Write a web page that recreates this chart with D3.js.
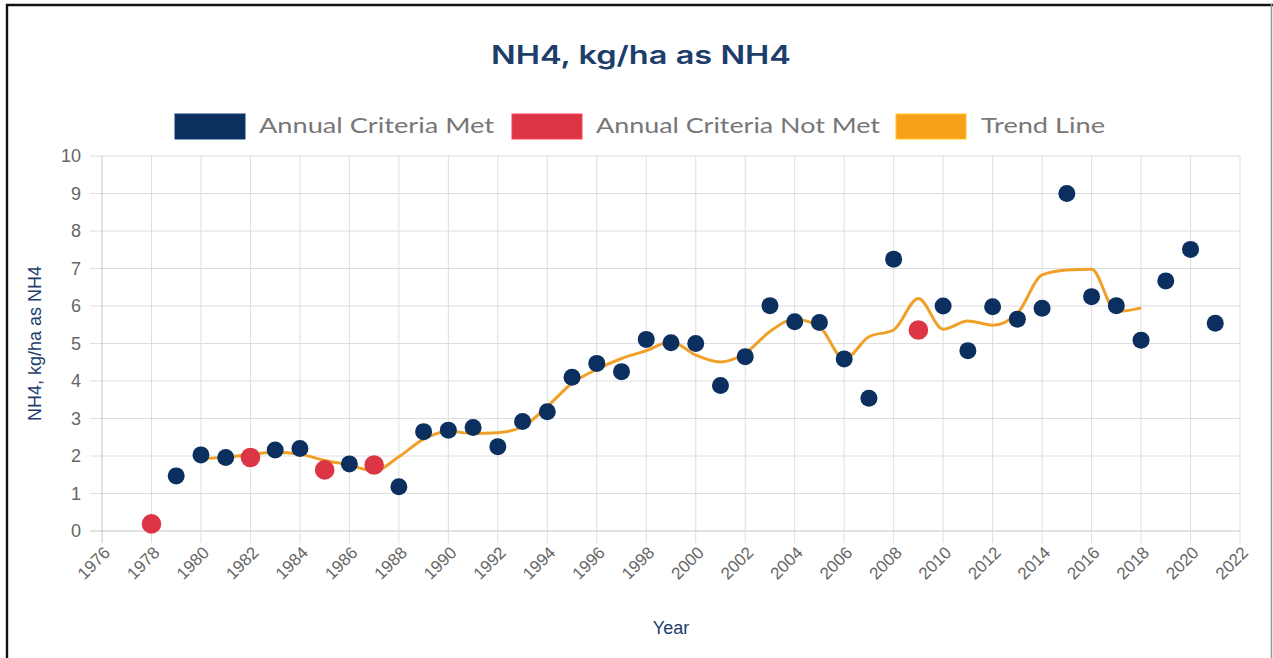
<!DOCTYPE html>
<html>
<head>
<meta charset="utf-8">
<script src="https://cdn.jsdelivr.net/npm/d3@7"></script>
<style>
  html, body { margin: 0; padding: 0; background: #fff; }
  svg { display: block; }
</style>
</head>
<body>
<svg id="chart" width="1273" height="658"></svg>
<script>
// Annual NH4 deposition, kg/ha as NH4
const years = [1978, 1979, 1980, 1981, 1982, 1983, 1984, 1985, 1986, 1987, 1988, 1989, 1990, 1991,
  1992, 1993, 1994, 1995, 1996, 1997, 1998, 1999, 2000, 2001, 2002, 2003, 2004, 2005, 2006, 2007,
  2008, 2009, 2010, 2011, 2012, 2013, 2014, 2015, 2016, 2017, 2018, 2019, 2020, 2021];
const values = [0.19, 1.47, 2.03, 1.96, 1.96, 2.16, 2.2, 1.63, 1.79, 1.76, 1.18, 2.65, 2.69, 2.76,
  2.25, 2.92, 3.18, 4.1, 4.47, 4.25, 5.11, 5.02, 5.0, 3.88, 4.65, 6.01, 5.58, 5.56, 4.59, 3.54,
  7.25, 5.36, 6.0, 4.81, 5.98, 5.65, 5.94, 9.0, 6.25, 6.01, 5.09, 6.67, 7.51, 5.54];
// Years in which the annual completeness criteria were not met
const notMetYears = [1978, 1982, 1985, 1987, 2009];

const trendYears = [1980, 1981, 1982, 1983, 1984, 1985, 1986, 1987, 1988, 1989, 1990, 1991, 1992,
  1993, 1994, 1995, 1996, 1997, 1998, 1999, 2000, 2001, 2002, 2003, 2004, 2005, 2006, 2007, 2008,
  2009, 2010, 2011, 2012, 2013, 2014, 2015, 2016, 2017, 2018];
const trendValues = [1.92, 1.97, 2.04, 2.1, 2.05, 1.88, 1.76, 1.6, 1.98, 2.45, 2.66, 2.6, 2.62,
  2.78, 3.32, 3.94, 4.31, 4.6, 4.81, 5.05, 4.69, 4.51, 4.74, 5.32, 5.65, 5.45, 4.58, 5.18, 5.36,
  6.2, 5.38, 5.6, 5.49, 5.8, 6.83, 6.96, 6.98, 5.85, 5.95];

const xTicks = d3.range(1976, 2023, 2);
const yTicks = d3.range(0, 11, 1);

const legendItems = [
  { label: "Annual Criteria Met", color: "#0b2f5e" },
  { label: "Annual Criteria Not Met", color: "#dc3545" },
  { label: "Trend Line", color: "#f7a11a" }
];

const colors = { met: "#0b2f5e", notMet: "#dc3545", trend: "#f0a028", navy: "#1d3d6b", tick: "#666" };

const svg = d3.select("#chart");
const plot = { left: 102, right: 1240, top: 156, bottom: 531 };

const x = d3.scaleLinear().domain([1976, 2022]).range([plot.left, plot.right]);
const y = d3.scaleLinear().domain([0, 10]).range([plot.bottom, plot.top]);

// frame
svg.append("line").attr("x1", 6).attr("x2", 1273).attr("y1", 5).attr("y2", 5)
  .attr("stroke", "#111").attr("stroke-width", 2.4);
svg.append("line").attr("x1", 7).attr("x2", 7).attr("y1", 4).attr("y2", 658)
  .attr("stroke", "#111").attr("stroke-width", 2.4);
svg.append("line").attr("x1", 1271.5).attr("x2", 1271.5).attr("y1", 4).attr("y2", 658)
  .attr("stroke", "#999").attr("stroke-width", 1.5);

// title
svg.append("text")
  .attr("x", 641).attr("y", 64)
  .attr("text-anchor", "middle")
  .attr("font-family", "Inter, 'Open Sans', sans-serif")
  .attr("font-weight", 600)
  .attr("font-size", 25)
  .attr("fill", colors.navy)
  .attr("textLength", 300).attr("lengthAdjust", "spacingAndGlyphs")
  .text("NH4, kg/ha as NH4");

// legend
const legendLayout = [
  { box: 175, text: 259, textLen: 235 },
  { box: 512, text: 596, textLen: 284 },
  { box: 896, text: 981, textLen: 124 }
];
const legend = svg.append("g");
legendItems.forEach((d, i) => {
  const L = legendLayout[i];
  legend.append("rect")
    .attr("x", L.box).attr("y", 114).attr("width", 70).attr("height", 25)
    .attr("fill", d.color)
    .attr("stroke", d3.color(d.color).brighter(0.6)).attr("stroke-width", 1);
  legend.append("text")
    .attr("x", L.text).attr("y", 133)
    .attr("font-family", "Lato, 'Open Sans', sans-serif")
    .attr("font-size", 21)
    .attr("fill", "#777")
    .attr("textLength", L.textLen).attr("lengthAdjust", "spacingAndGlyphs")
    .text(d.label);
});

// grid
const grid = svg.append("g");
grid.selectAll(".hg").data(yTicks).join("line")
  .attr("x1", plot.left - 12).attr("x2", plot.right)
  .attr("y1", d => y(d)).attr("y2", d => y(d))
  .attr("stroke", d => d === 0 ? "#c4c4c4" : "#dedede").attr("stroke-width", 1);
grid.selectAll(".vg").data(xTicks).join("line")
  .attr("x1", d => x(d)).attr("x2", d => x(d))
  .attr("y1", plot.top).attr("y2", plot.bottom + 12)
  .attr("stroke", d => d === 1976 ? "#c4c4c4" : "#dedede").attr("stroke-width", 1);

// y axis labels
const yAxis = svg.append("g")
  .attr("transform", `translate(${plot.left - 12},0)`)
  .call(d3.axisLeft(y).tickValues(yTicks).tickSize(0).tickPadding(9));
yAxis.select(".domain").remove();
yAxis.selectAll("text")
  .attr("font-family", "'Liberation Sans', Arial, sans-serif")
  .attr("font-size", 18).attr("fill", colors.tick);

// x axis labels, rotated
const xAxis = svg.append("g")
  .attr("transform", `translate(0,${plot.bottom + 12})`)
  .call(d3.axisBottom(x).tickValues(xTicks).tickFormat(d3.format("d")).tickSize(0));
xAxis.select(".domain").remove();
xAxis.selectAll("text")
  .attr("font-family", "'Liberation Sans', Arial, sans-serif")
  .attr("font-size", 17).attr("fill", colors.tick)
  .attr("text-anchor", "end")
  .attr("dy", "0.3em")
  .attr("transform", "translate(3,5) rotate(-45)");

// axis titles
svg.append("text")
  .attr("transform", `translate(41,${(plot.top + plot.bottom) / 2}) rotate(-90)`)
  .attr("text-anchor", "middle")
  .attr("font-family", "'Liberation Sans', Arial, sans-serif")
  .attr("font-size", 18).attr("fill", colors.navy)
  .text("NH4, kg/ha as NH4");
svg.append("text")
  .attr("x", (plot.left + plot.right) / 2).attr("y", 634)
  .attr("text-anchor", "middle")
  .attr("font-family", "'Liberation Sans', Arial, sans-serif")
  .attr("font-size", 18).attr("fill", colors.navy)
  .text("Year");

// trend line
const trend = trendYears.map((yr, i) => ({ year: yr, value: trendValues[i] }));
svg.append("path")
  .datum(trend)
  .attr("fill", "none")
  .attr("stroke", colors.trend)
  .attr("stroke-width", 3)
  .attr("stroke-linejoin", "round")
  .attr("d", d3.line().x(d => x(d.year)).y(d => y(d.value)).curve(d3.curveMonotoneX));

// annual points
const points = years.map((yr, i) => ({ year: yr, value: values[i], met: !notMetYears.includes(yr) }));
svg.append("g").selectAll("circle").data(points).join("circle")
  .attr("cx", d => x(d.year))
  .attr("cy", d => y(d.value))
  .attr("r", d => d.met ? 8.5 : 9.8)
  .attr("fill", d => d.met ? colors.met : colors.notMet);
</script>
</body>
</html>
